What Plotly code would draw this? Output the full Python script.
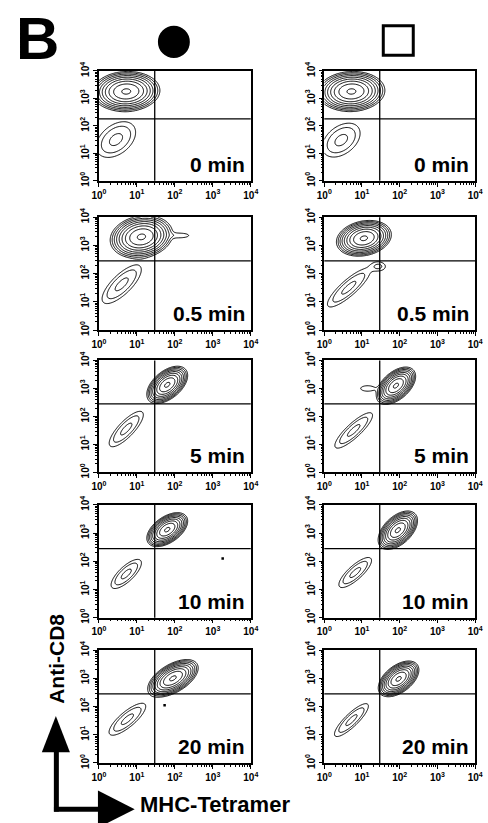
import numpy as np
import plotly.graph_objects as go

W, H = 488, 823

# ---------------- data ----------------
times = ["0 min", "0.5 min", "5 min", "10 min", "20 min"]
decade_vals = [0, 1, 2, 3, 4]
decade_text = ["10<sup>0</sup>", "10<sup>1</sup>", "10<sup>2</sup>", "10<sup>3</sup>", "10<sup>4</sup>"]

# quadrant gates (log10 units)
gate_x = [1.47, 1.47, 1.47, 1.47, 1.47]
gate_y = [2.25, 2.45, 2.45, 2.45, 2.45]

# populations: (log10 centre x, log10 centre y, sd x, sd y, correlation, relative peak density)
cd8_high_left = [
    (0.72, 3.25, 0.28, 0.23, 0.05, 150),
    (1.12, 3.30, 0.26, 0.24, 0.15, 150),
    (1.80, 3.13, 0.17, 0.21, 0.50, 150),
    (1.80, 3.12, 0.17, 0.19, 0.50, 150),
    (1.95, 3.00, 0.21, 0.21, 0.55, 150),
]
cd8_low_left = [
    (0.45, 1.50, 0.31, 0.39, 0.40, 4.0),
    (0.60, 1.62, 0.31, 0.41, 0.75, 4.0),
    (0.72, 1.55, 0.27, 0.38, 0.80, 4.0),
    (0.72, 1.55, 0.24, 0.31, 0.75, 4.0),
    (0.75, 1.55, 0.29, 0.34, 0.80, 4.0),
]
extra_left = [
    None,
    (2.15, 3.35, 0.22, 0.08, 0.0, 1.6),
    None,
    None,
    None,
]
cd8_high_right = [
    (0.72, 3.25, 0.28, 0.23, 0.05, 150),
    (1.05, 3.25, 0.23, 0.20, 0.20, 150),
    (1.90, 3.10, 0.165, 0.21, 0.50, 150),
    (1.95, 3.10, 0.165, 0.215, 0.50, 150),
    (1.97, 2.98, 0.17, 0.20, 0.50, 150),
]
cd8_low_right = [
    (0.45, 1.48, 0.30, 0.37, 0.40, 4.0),
    (0.65, 1.50, 0.34, 0.41, 0.85, 4.0),
    (0.78, 1.50, 0.30, 0.38, 0.85, 4.0),
    (0.82, 1.60, 0.26, 0.32, 0.80, 4.0),
    (0.72, 1.52, 0.27, 0.35, 0.85, 4.0),
]
extra_right = [
    None,
    (1.45, 2.25, 0.14, 0.12, 0.0, 2.0),
    (1.15, 3.00, 0.17, 0.09, 0.0, 1.8),
    None,
    None,
]
stray_x_left = [[], [], [], [3.26], [1.73]]
stray_y_left = [[], [], [], [2.10], [2.05]]
stray_x_right = [[], [], [], [], []]
stray_y_right = [[], [], [], [], []]

# contour levels: geometric steps of this factor above the lowest level
level_factor = 1.85
n_levels = 9

# ---------------- layout geometry (pixels) ----------------
col_x = [(94, 251), (327, 483)]
row_y = [(63, 175), (212, 327), (358, 472), (505, 620), (653, 768)]


def px(x):
    return x / W


def py(y):
    return 1 - y / H


grid = np.linspace(0, 4, 181)
GX, GY = np.meshgrid(grid, grid)


def gauss(p):
    cx, cy, sx, sy, rho, peak = p
    dx = (GX - cx) / sx
    dy = (GY - cy) / sy
    q = (dx * dx - 2 * rho * dx * dy + dy * dy) / (1 - rho * rho)
    return peak * np.exp(-0.5 * q)


fig = go.Figure()
layout = dict(width=W, height=H, margin=dict(l=0, r=0, t=0, b=0),
              paper_bgcolor="white", plot_bgcolor="white", showlegend=False)
shapes = []
annotations = []

minor_vals = [k + np.log10(m) for k in range(4) for m in range(2, 10)]

columns = [
    (cd8_high_left, cd8_low_left, extra_left, stray_x_left, stray_y_left),
    (cd8_high_right, cd8_low_right, extra_right, stray_x_right, stray_y_right),
]

idx = 0
for c, (hi, lo, ex, sxs, sys_) in enumerate(columns):
    for r in range(5):
        idx += 1
        xa = "x" if idx == 1 else f"x{idx}"
        ya = "y" if idx == 1 else f"y{idx}"
        xkey = "xaxis" if idx == 1 else f"xaxis{idx}"
        ykey = "yaxis" if idx == 1 else f"yaxis{idx}"
        dens = gauss(hi[r]) + gauss(lo[r])
        if ex[r] is not None:
            dens = dens + gauss(ex[r])
        z = np.log(dens + 1e-4) / np.log(level_factor)
        fig.add_trace(go.Contour(
            x=grid, y=grid, z=z, xaxis=xa, yaxis=ya,
            contours=dict(start=0, end=n_levels - 1, size=1, coloring="none", showlabels=False),
            line=dict(color="black", width=1.0, smoothing=1),
            showscale=False, hoverinfo="skip"))
        if sxs[r]:
            fig.add_trace(go.Scatter(x=sxs[r], y=sys_[r], xaxis=xa, yaxis=ya, mode="markers",
                                     marker=dict(color="black", size=2.5, symbol="square"),
                                     hoverinfo="skip"))
        x0, x1 = col_x[c]
        y0, y1 = row_y[r]
        common = dict(range=[0, 4], tickvals=decade_vals, ticktext=decade_text,
                      showline=True, mirror=True, linecolor="black", linewidth=1.5,
                      ticks="outside", ticklen=4, tickwidth=1, tickcolor="black",
                      showgrid=False, zeroline=False, fixedrange=True,
                      tickfont=dict(family="Arial", size=10, color="black", weight="bold"),
                      minor=dict(tickvals=minor_vals, ticks="outside", ticklen=2,
                                 tickwidth=1, tickcolor="black", showgrid=False))
        layout[xkey] = dict(domain=[px(x0), px(x1)], anchor=ya, **common)
        layout[ykey] = dict(domain=[py(y1), py(y0)], anchor=xa, tickangle=-90, **common)
        # quadrant gates
        shapes.append(dict(type="line", xref=xa, yref=f"{ya} domain", x0=gate_x[r], x1=gate_x[r],
                           y0=0, y1=1, line=dict(color="black", width=1.3)))
        shapes.append(dict(type="line", xref=f"{xa} domain", yref=ya, x0=0, x1=1,
                           y0=gate_y[r], y1=gate_y[r], line=dict(color="black", width=1.3)))
        annotations.append(dict(text=times[r], xref=f"{xa} domain", yref=f"{ya} domain",
                                x=1, y=0, xanchor="right", yanchor="bottom", xshift=-4, yshift=3,
                                showarrow=False,
                                font=dict(family="Arial", size=21, color="black", weight="bold")))

# header symbols
shapes.append(dict(type="circle", xref="paper", yref="paper", x0=px(155), x1=px(188),
                   y0=py(50), y1=py(17), fillcolor="black", line=dict(width=0)))
shapes.append(dict(type="rect", xref="paper", yref="paper", x0=px(388), x1=px(419),
                   y0=py(47), y1=py(17), fillcolor="white", line=dict(color="black", width=3)))


def path(pts):
    return "M " + " L ".join(f"{px(a):.5f},{py(b):.5f}" for a, b in pts) + " Z"


# axis-direction arrows
shapes.append(dict(type="line", xref="paper", yref="paper", x0=px(50), x1=px(50),
                   y0=py(817.5), y1=py(750), line=dict(color="black", width=5)))
shapes.append(dict(type="line", xref="paper", yref="paper", x0=px(47.5), x1=px(100),
                   y0=py(815), y1=py(815), line=dict(color="black", width=5)))
shapes.append(dict(type="path", xref="paper", yref="paper",
                   path=path([(35, 757), (64, 757), (49.5, 720)]),
                   fillcolor="black", line=dict(width=0)))
shapes.append(dict(type="path", xref="paper", yref="paper",
                   path=path([(93, 796), (93, 834), (131, 815)]),
                   fillcolor="black", line=dict(width=0)))

annotations.append(dict(text="B", xref="paper", yref="paper", x=px(31), y=py(30),
                        xanchor="center", yanchor="middle", showarrow=False,
                        font=dict(family="Liberation Sans Narrow, Arial", size=60,
                                  color="black", weight="bold")))
annotations.append(dict(text="Anti-CD8", xref="paper", yref="paper", x=px(50), y=py(661.5),
                        xanchor="center", yanchor="middle", textangle=-90, showarrow=False,
                        font=dict(family="Arial", size=21, color="black", weight="bold")))
annotations.append(dict(text="MHC-Tetramer", xref="paper", yref="paper", x=px(134), y=py(810.5),
                        xanchor="left", yanchor="middle", showarrow=False,
                        font=dict(family="Arial", size=22, color="black", weight="bold")))

layout["shapes"] = shapes
layout["annotations"] = annotations
fig.update_layout(**layout)
fig.write_html("out.html", config={"displayModeBar": False},
               post_script="document.body.style.margin='0px';document.body.style.overflow='hidden';")
